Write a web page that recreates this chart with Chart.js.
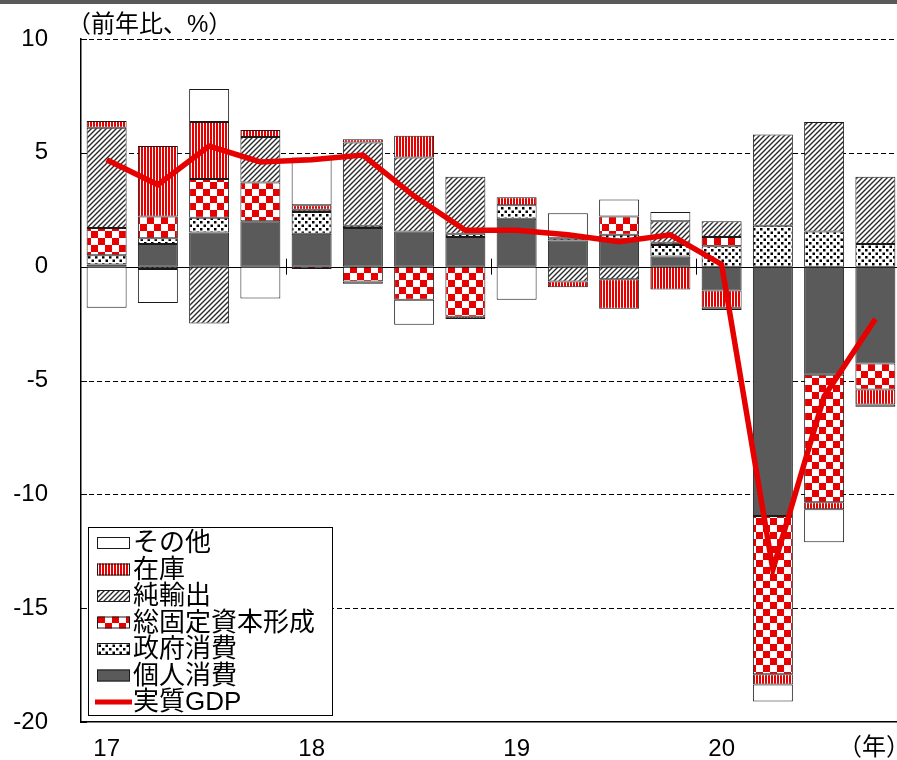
<!DOCTYPE html>
<html>
<head>
<meta charset="utf-8">
<script src="https://cdn.jsdelivr.net/npm/chart.js@4.4.1/dist/chart.umd.min.js"></script>
<style>
  html, body { margin: 0; padding: 0; background: #fff; overflow: hidden; }
  canvas { display: block; }
</style>
</head>
<body>
<canvas id="gdpChart" width="901" height="760"></canvas>
<script>
// 実質GDP成長率（前年比）の需要項目別寄与度
const quarters = ['17Q1', '17Q2', '17Q3', '17Q4', '18Q1', '18Q2', '18Q3', '18Q4',
                  '19Q1', '19Q2', '19Q3', '19Q4', '20Q1', '20Q2', '20Q3', '20Q4'];
const yearLabels = ['17', '', '', '', '18', '', '', '', '19', '', '', '', '20', '', '', ''];

const personal   = [0.1, 1.0, 1.5, 2.0, 1.45, 1.7, 1.55, 1.3, 2.1, 1.15, 1.2, 0.45, -1.05, -10.95, -4.75, -4.25];
const government = [0.4, 0.25, 0.65, 0, 0.95, 0.1, 0, 0.15, 0.6, 0.1, 0.2, 0.5, 0.9, 1.8, 1.55, 1.0];
const investment = [1.2, 0.95, 1.7, 1.7, -0.1, -0.65, -1.45, -2.2, 0, 0, 0.8, 0.1, 0.4, -6.95, -5.6, -1.15];
const netExports = [4.4, -0.1, -2.5, 2.0, 0.1, 3.65, 3.25, 2.5, 0, -0.65, -0.55, 0.95, 0.7, 4.0, 4.8, 2.95];
const inventory  = [0.3, 3.1, 2.5, 0.3, 0.2, 0.15, 0.95, -0.1, 0.35, -0.25, -1.3, -1.0, -0.75, -0.45, -0.3, -0.65];
const other      = [-1.8, -1.5, 1.45, -1.4, 2.1, -0.1, -1.1, 0, -1.45, 1.1, 0.75, 0.4, -0.1, -0.75, -1.45, -0.1];
const realGdp    = [4.7, 3.6, 5.3, 4.6, 4.7, 4.9, 3.1, 1.6, 1.6, 1.4, 1.1, 1.4, 0.1, -13.3, -5.7, -2.3];

const yTicks = [10, 5, 0, -5, -10, -15, -20];

const FONT = '"Liberation Sans", "Noto Sans CJK JP", sans-serif';
const RED = '#e60000';

function makePattern(w, h, draw) {
    const c = document.createElement('canvas');
    c.width = w;
    c.height = h;
    const g = c.getContext('2d');
    g.fillStyle = '#fff';
    g.fillRect(0, 0, w, h);
    draw(g, w, h);
    return g.createPattern(c, 'repeat');
}

// 塗りパターン
const fillPersonal = '#5a5a5a';
const fillGovernment = makePattern(7, 7, (g) => {
    g.fillStyle = '#000';
    g.fillRect(0.5, 0.5, 2.5, 2.5);
    g.fillRect(4, 4, 2.5, 2.5);
});
const fillInvestment = makePattern(14, 14, (g) => {
    g.fillStyle = RED;
    g.fillRect(0, 0, 7, 7);
    g.fillRect(7, 7, 7, 7);
});
const fillNetExports = makePattern(5, 5, (g) => {
    g.strokeStyle = '#2a2a2a';
    g.lineWidth = 1.4;
    g.beginPath();
    g.moveTo(0, 5); g.lineTo(5, 0);
    g.moveTo(-1, 1); g.lineTo(1, -1);
    g.moveTo(4, 6); g.lineTo(6, 4);
    g.stroke();
});
const fillInventory = makePattern(3, 1, (g) => {
    g.fillStyle = RED;
    g.fillRect(0, 0, 2, 1);
});
const fillOther = '#fff';

function barSet(label, data, fill) {
    return {
        type: 'bar',
        label: label,
        data: data,
        backgroundColor: fill,
        borderColor: '#1a1a1a',
        borderWidth: 1,
        borderSkipped: false,
        stack: 'contrib',
        barPercentage: 0.78,
        categoryPercentage: 1
    };
}

const datasets = [
    barSet('個人消費', personal, fillPersonal),
    barSet('政府消費', government, fillGovernment),
    barSet('総固定資本形成', investment, fillInvestment),
    barSet('純輸出', netExports, fillNetExports),
    barSet('在庫', inventory, fillInventory),
    barSet('その他', other, fillOther),
    {
        type: 'line',
        label: '実質GDP',
        data: realGdp,
        borderColor: RED,
        borderWidth: 5.5,
        pointRadius: 0,
        tension: 0,
        fill: false,
        stack: 'gdp',
        order: -1
    }
];

// 点線の目盛線、ゼロ線、年の区切り
const gridPlugin = {
    id: 'gridPlugin',
    beforeDatasetsDraw(chart) {
        const { ctx, chartArea, scales } = chart;
        const y = scales.y, x = scales.x;
        ctx.save();
        ctx.strokeStyle = '#000';
        ctx.lineWidth = 1;
        yTicks.forEach(v => {
            if (v === -20) return;
            const py = Math.round(y.getPixelForValue(v)) + 0.5;
            ctx.setLineDash(v === 0 ? [] : [5, 3]);
            ctx.beginPath();
            ctx.moveTo(chartArea.left, py);
            ctx.lineTo(chartArea.right, py);
            ctx.stroke();
        });
        ctx.setLineDash([]);
        // 左軸の内向き目盛
        yTicks.forEach(v => {
            const py = Math.round(y.getPixelForValue(v)) + 0.5;
            ctx.beginPath();
            ctx.moveTo(chartArea.left, py);
            ctx.lineTo(chartArea.left + 6, py);
            ctx.stroke();
        });
        const y0 = y.getPixelForValue(0);
        [4, 8, 12].forEach(i => {
            const px = Math.round((x.getPixelForValue(i - 1) + x.getPixelForValue(i)) / 2) + 0.5;
            ctx.beginPath();
            ctx.moveTo(px, y0 - 8);
            ctx.lineTo(px, y0 + 8);
            ctx.stroke();
        });
        ctx.restore();
    }
};

// 凡例・単位表記
const legendItems = [
    { label: 'その他', fill: fillOther },
    { label: '在庫', fill: fillInventory },
    { label: '純輸出', fill: fillNetExports },
    { label: '総固定資本形成', fill: fillInvestment },
    { label: '政府消費', fill: fillGovernment },
    { label: '個人消費', fill: fillPersonal },
    { label: '実質GDP', line: RED }
];

const annotatePlugin = {
    id: 'annotatePlugin',
    afterDraw(chart) {
        const ctx = chart.ctx;
        ctx.save();
        ctx.fillStyle = '#595959';
        ctx.fillRect(0, 0, chart.width, 4);

        ctx.fillStyle = '#000';
        ctx.textBaseline = 'middle';
        ctx.font = '24px ' + FONT;
        ctx.textAlign = 'left';
        ctx.fillText('（前年比、%）', 67, 25);
        ctx.textAlign = 'right';
        ctx.fillText('（年）', 910, 748);

        // 凡例枠
        ctx.fillStyle = '#fff';
        ctx.fillRect(88, 527, 244, 188);
        ctx.strokeStyle = '#000';
        ctx.lineWidth = 1;
        ctx.strokeRect(88.5, 527.5, 244, 188);

        ctx.font = '26px ' + FONT;
        ctx.textAlign = 'left';
        legendItems.forEach((item, i) => {
            const cy = 543 + i * 26.5;
            if (item.line) {
                ctx.strokeStyle = item.line;
                ctx.lineWidth = 5;
                ctx.beginPath();
                ctx.moveTo(95, cy);
                ctx.lineTo(132, cy);
                ctx.stroke();
            } else {
                ctx.fillStyle = item.fill;
                ctx.fillRect(97, cy - 6, 33, 12);
                ctx.strokeStyle = '#1a1a1a';
                ctx.lineWidth = 1;
                ctx.strokeRect(97.5, cy - 5.5, 32, 11);
            }
            ctx.fillStyle = '#000';
            ctx.fillText(item.label, 133, cy + 1);
        });
        ctx.restore();
    }
};

const ctx = document.getElementById('gdpChart').getContext('2d');
new Chart(ctx, {
    data: {
        labels: quarters,
        datasets: datasets
    },
    options: {
        responsive: false,
        animation: false,
        devicePixelRatio: 1,
        layout: { padding: { top: 39, left: 0, right: 0, bottom: 0 } },
        plugins: {
            legend: { display: false },
            tooltip: { enabled: false }
        },
        scales: {
            x: {
                stacked: true,
                grid: { display: false, drawTicks: false },
                border: { display: true, color: '#000', width: 1.5 },
                ticks: {
                    autoSkip: false,
                    maxRotation: 0,
                    padding: 13,
                    color: '#000',
                    font: { family: FONT, size: 24 },
                    callback: (v, i) => yearLabels[i]
                },
                afterFit: (s) => {
                    s.height = 38;
                    s.paddingLeft = 0;
                    s.paddingRight = 0;
                }
            },
            y: {
                stacked: true,
                min: -20,
                max: 10,
                grid: { display: false, drawTicks: false },
                border: { display: true, color: '#000', width: 1.5 },
                ticks: {
                    stepSize: 5,
                    padding: 33,
                    color: '#000',
                    font: { family: FONT, size: 24 }
                },
                afterFit: (s) => {
                    s.width = 81;
                    s.paddingTop = 0;
                    s.paddingBottom = 0;
                }
            }
        }
    },
    plugins: [gridPlugin, annotatePlugin]
});
</script>
</body>
</html>
